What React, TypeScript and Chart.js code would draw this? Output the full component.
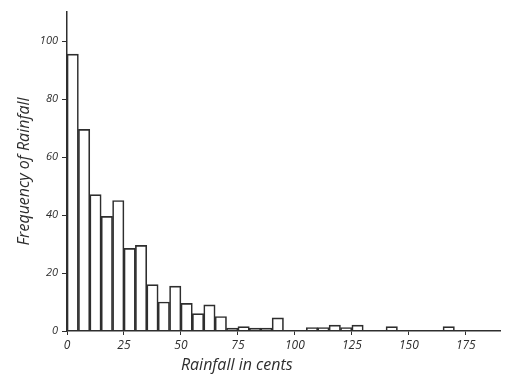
import React, { useEffect, useRef } from "react";
import { Chart, registerables } from "chart.js";

Chart.register(...registerables);

// Bin start values (cents), each bin is 5 cents wide
const binStarts = [
  0, 5, 10, 15, 20, 25, 30, 35, 40, 45,
  50, 55, 60, 65, 70, 75, 80, 85, 90, 95,
  100, 105, 110, 115, 120, 125, 130, 135, 140, 145,
  150, 155, 160, 165, 170, 175, 180, 185,
];
const binWidth = 5;
// Frequency of rainfall for each bin
const frequencies = [
  95.5, 69.5, 47, 39.5, 45, 28.5, 29.5, 16, 10, 15.5,
  9.5, 6, 9, 5, 1, 1.5, 1, 1, 4.5, 0,
  0, 1.2, 1.2, 2, 1.2, 2, 0, 0, 1.5, 0,
  0, 0, 0, 1.5, 0, 0, 0, 0,
];
const xTickValues = [0, 25, 50, 75, 100, 125, 150, 175];
const yTickValues = [0, 20, 40, 60, 80, 100];
const xTitle = "Rainfall in cents";
const yTitle = "Frequency of Rainfall";

const INK = "#2e2e2e";
const FONT = "'Open Sans', 'DejaVu Sans', sans-serif";

export default function App() {
  const ref = useRef<HTMLCanvasElement | null>(null);

  useEffect(() => {
    document.body.style.margin = "0";
    const canvas = ref.current;
    if (!canvas) return;

    const xTitlePlugin = {
      id: "xTitlePlugin",
      afterDraw(chart: any) {
        const ctx = chart.ctx;
        const xs = chart.scales.x;
        ctx.save();
        ctx.fillStyle = INK;
        ctx.font = `italic 16px ${FONT}`;
        ctx.textAlign = "center";
        ctx.textBaseline = "middle";
        ctx.fillText(xTitle, xs.getPixelForValue(74.5), 365);
        ctx.restore();
      },
    };

    const chart = new Chart(canvas, {
      type: "bar",
      data: {
        datasets: [
          {
            data: binStarts.map((s, i) => ({ x: s + binWidth / 2, y: frequencies[i] })),
            backgroundColor: "rgba(255,255,255,0)",
            borderColor: INK,
            borderWidth: 1,
            borderSkipped: "start",
            categoryPercentage: 1,
            barPercentage: 1,
          },
        ],
      },
      options: {
        animation: false,
        responsive: true,
        maintainAspectRatio: false,
        layout: { padding: { top: 12, right: 5, left: 0, bottom: 0 } },
        plugins: {
          legend: { display: false },
          tooltip: { enabled: false },
        },
        scales: {
          x: {
            type: "linear",
            min: 0,
            max: 190,
            offset: false,
            afterBuildTicks: (scale: any) => {
              scale.ticks = xTickValues.map((v) => ({ value: v }));
            },
            afterFit: (scale: any) => {
              scale.height = 45;
            },
            grid: {
              display: true,
              drawOnChartArea: false,
              drawTicks: true,
              tickLength: 4,
              color: INK,
              offset: false,
            },
            border: { display: true, color: INK, width: 1.5 },
            ticks: {
              color: INK,
              padding: 3,
              maxRotation: 0,
              autoSkip: false,
              font: { family: FONT, size: 12, style: "italic" },
            },
          },
          y: {
            type: "linear",
            min: 0,
            max: 110,
            afterBuildTicks: (scale: any) => {
              scale.ticks = yTickValues.map((v) => ({ value: v }));
            },
            afterFit: (scale: any) => {
              scale.width = 67;
            },
            grid: {
              display: true,
              drawOnChartArea: false,
              drawTicks: true,
              tickLength: 5,
              color: INK,
            },
            border: { display: true, color: INK, width: 1.5 },
            ticks: {
              color: INK,
              padding: 4,
              font: { family: FONT, size: 11, style: "italic" },
            },
            title: {
              display: true,
              text: yTitle,
              color: INK,
              padding: { top: 15, bottom: 0 },
              font: { family: FONT, size: 16, style: "italic" },
            },
          },
        },
      },
      plugins: [xTitlePlugin],
    });

    return () => chart.destroy();
  }, []);

  return (
    <div style={{ width: 505, height: 376, position: "relative" }}>
      <canvas ref={ref} />
    </div>
  );
}
